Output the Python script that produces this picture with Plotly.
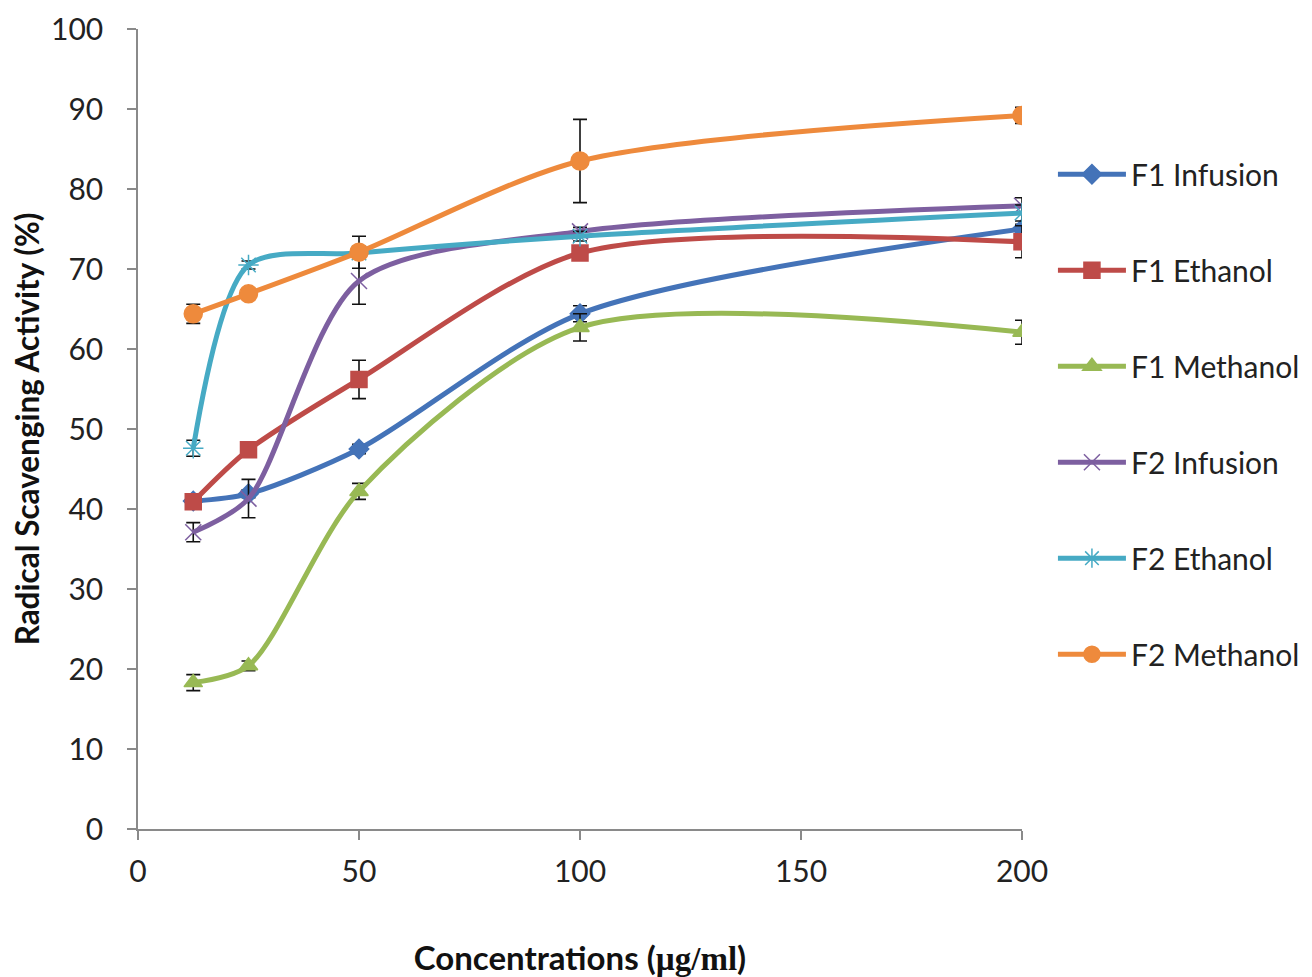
import plotly.graph_objects as go

conc = [12.5, 25, 50, 100, 200]

names = ["F1 Infusion", "F1 Ethanol", "F1 Methanol", "F2 Infusion", "F2 Ethanol", "F2 Methanol"]

f1_infusion = [41.0, 41.9, 47.5, 64.4, 75.0]
f1_ethanol = [40.9, 47.4, 56.2, 72.0, 73.4]
f1_methanol = [18.3, 20.4, 42.2, 62.7, 62.1]
f2_infusion = [37.1, 41.3, 68.5, 74.7, 77.9]
f2_ethanol = [47.6, 70.5, 72.0, 74.1, 77.0]
f2_methanol = [64.4, 66.9, 72.1, 83.5, 89.2]

f1_infusion_err = [0.5, 0.5, 0.6, 1.0, 0.6]
f1_ethanol_err = [0.5, 0.5, 2.4, 0.6, 2.0]
f1_methanol_err = [1.0, 0.6, 1.0, 1.7, 1.5]
f2_infusion_err = [1.2, 2.4, 2.9, 0.5, 1.0]
f2_ethanol_err = [1.0, 0.5, 0.6, 0.6, 1.0]
f2_methanol_err = [1.2, 0.5, 2.0, 5.2, 1.0]

x_ticks = [0, 50, 100, 150, 200]
y_ticks = [0, 10, 20, 30, 40, 50, 60, 70, 80, 90, 100]

series = [f1_infusion, f1_ethanol, f1_methanol, f2_infusion, f2_ethanol, f2_methanol]
errors = [f1_infusion_err, f1_ethanol_err, f1_methanol_err, f2_infusion_err, f2_ethanol_err, f2_methanol_err]
colors = ["#4473B8", "#BE4B48", "#98B954", "#7D5FA0", "#46AAC4", "#EE8A3C"]
symbols = ["diamond", "square", "triangle-up", "x-thin", "asterisk", "circle"]
sizes = [15, 16, 16, 16, 17, 18]

fig = go.Figure()
for name, ys, err, c, sym, sz in zip(names, series, errors, colors, symbols, sizes):
    fig.add_trace(go.Scatter(
        x=conc, y=ys, name=name, mode="lines+markers",
        line=dict(color=c, width=5, shape="spline", smoothing=0.8),
        marker=dict(symbol=sym, size=sz, color=c, line=dict(color=c, width=1.5)),
        error_y=dict(type="data", array=err, visible=True, color="#111111", thickness=1.6, width=7),
        legendgroup=name,
    ))

font_family = "Lato, 'Open Sans', sans-serif"

fig.update_layout(
    width=1312, height=977,
    margin=dict(l=130, r=298, t=21, b=156, autoexpand=False),
    paper_bgcolor="white", plot_bgcolor="white",
    font=dict(family=font_family, color="#222222", size=30),
    showlegend=True,
    legend=dict(
        x=1.035, xref="paper", xanchor="left", y=0.851, yanchor="top",
        font=dict(size=30, color="#222222", family=font_family),
        tracegroupgap=54, itemwidth=68,
        bgcolor="rgba(0,0,0,0)",
    ),
    xaxis=dict(
        range=[0, 200], tickvals=x_ticks, showgrid=False, zeroline=False,
        showline=True, linecolor="#8a8a8a", linewidth=1.5, automargin=False,
        ticks="outside", ticklen=9, tickcolor="#8a8a8a", tickwidth=1.5,
        tickfont=dict(size=30, color="#222222"), ticklabelstandoff=6,
        title=dict(
            text="<b>Concentrations (<span style='font-family:Liberation Serif'>µg/ml</span>)</b>",
            font=dict(size=33, color="#111111"), standoff=60),
    ),
    yaxis=dict(
        range=[0, 100], tickvals=y_ticks, showgrid=False, zeroline=False,
        showline=True, linecolor="#8a8a8a", linewidth=1.5, automargin=False,
        ticks="outside", ticklen=9, tickcolor="#8a8a8a", tickwidth=1.5,
        tickfont=dict(size=30, color="#222222"), ticklabelstandoff=18,
        title=dict(text="<b>Radical Scavenging Activity (%)</b>",
                   font=dict(size=31.5, color="#111111"), standoff=12),
    ),
)

fig.write_html("out.html")
